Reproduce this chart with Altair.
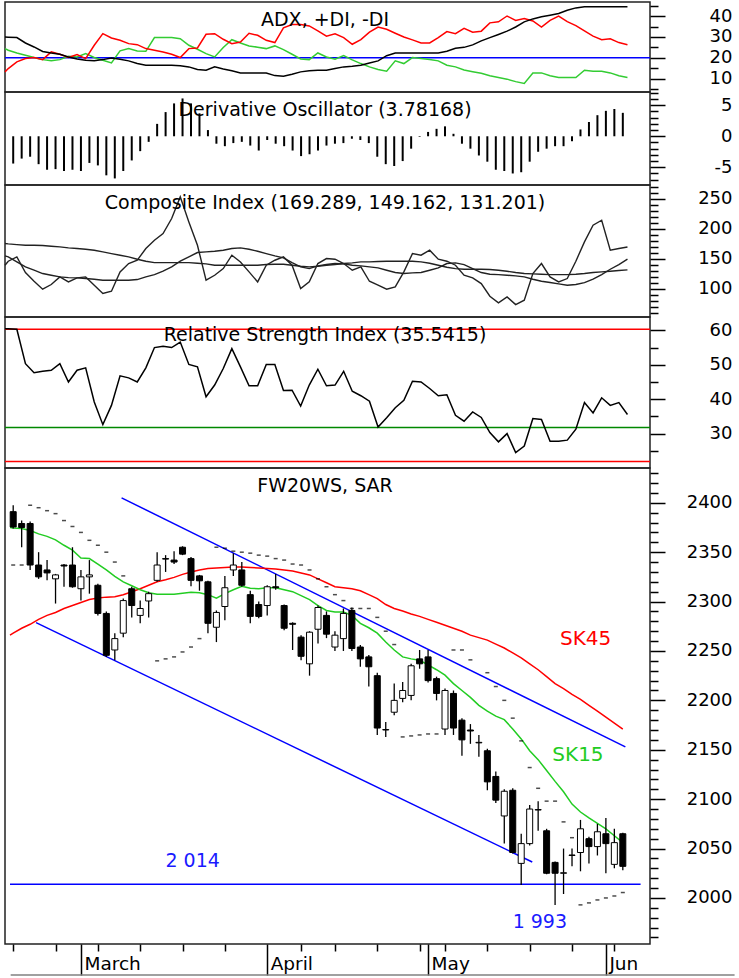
import altair as alt
import pandas as pd

FONT = "DejaVu Sans"
W = 645
H_ADX, H_DO, H_CI, H_RSI, H_PX = 90, 93, 132, 151, 476
XDOM = [-0.378, 74.62]

DAY = list(range(73))
EDGE_DAY = -0.378   # left border of the plot

# ---- ADX panel ----
ADX = [29.9, 29.7, 27.1, 25.2, 23.0, 22.3, 21.7, 20.4, 19.4, 18.8,
       18.6, 19.1, 19.9, 19.3, 18.5, 17.2, 16.4, 16.4, 16.4, 16.4,
       16.2, 15.6, 14.3, 14.0, 15.6, 14.6, 13.7, 12.7, 12.7, 12.7,
       12.7, 11.4, 11.1, 12.1, 13.2, 13.7, 14.0, 14.0, 14.8, 15.6,
       15.9, 16.4, 17.5, 18.5, 21.0, 22.3, 22.3, 22.3, 22.3, 22.3,
       22.3, 23.1, 24.6, 25.0, 26.2, 28.1, 29.7, 31.2, 32.8, 34.8,
       37.3, 38.7, 39.7, 40.5, 41.3, 42.9, 44.0, 44.5, 44.5, 44.5,
       44.5, 44.5, 44.5]
DI_RED = [14.8, 18.0, 19.6, 20.1, 19.1, 22.8, 21.7, 20.1, 21.5, 19.6,
          26.0, 31.6, 29.5, 28.4, 26.8, 26.3, 24.4, 23.6, 22.8, 21.7,
          20.1, 24.4, 24.7, 31.3, 31.6, 28.9, 26.8, 27.6, 31.8, 30.8,
          28.4, 27.3, 34.4, 36.0, 36.0, 35.3, 32.9, 30.4, 31.5, 29.7,
          26.5, 28.7, 32.3, 34.8, 33.7, 31.8, 30.0, 28.6, 27.1, 27.1,
          29.7, 32.6, 31.6, 34.2, 32.3, 32.8, 36.8, 37.3, 40.1, 38.0,
          38.9, 37.7, 34.8, 38.0, 40.1, 37.4, 35.5, 32.9, 30.4, 28.7,
          29.1, 27.3, 26.3]
DI_GREEN = [23.6, 22.3, 21.2, 20.1, 19.1, 18.5, 19.1, 20.7, 20.4, 22.0,
            20.1, 18.8, 17.5, 23.3, 24.4, 23.3, 23.1, 29.7, 29.7, 29.7,
            29.2, 26.0, 24.1, 22.0, 20.4, 24.9, 28.7, 27.1, 25.7, 25.1,
            24.4, 25.7, 23.9, 21.7, 19.4, 19.1, 22.3, 20.4, 19.3, 21.0,
            19.0, 17.2, 15.6, 14.3, 13.5, 18.5, 17.2, 20.1, 19.6, 19.1,
            18.5, 16.4, 15.6, 14.1, 13.3, 12.5, 11.3, 10.5, 9.7, 8.5,
            7.6, 12.7, 12.7, 11.3, 10.5, 10.5, 10.5, 14.0, 13.5, 13.5,
            12.7, 11.3, 10.5]
EDGE_ADX, EDGE_RED, EDGE_GREEN = 30.0, 13.2, 24.4
ADX_LEVEL = [20]

# ---- Derivative oscillator ----
DO = [-4.4, -3.6, -3.3, -4.5, -5.4, -5.3, -5.6, -5.4, -5.6, -4.3,
      -4.7, -6.3, -6.8, -5.6, -3.9, -2.4, -0.9, 2.0, 3.9, 5.3,
      6.1, 5.3, 3.7, 1.0, -1.2, -1.6, -1.1, -0.9, -1.5, -2.3,
      -0.6, -1.2, -1.6, -2.3, -3.2, -2.9, -2.3, -1.5, -1.2, -1.1,
      -0.4, -0.6, -1.1, -3.3, -4.5, -4.8, -4.0, -2.0, -0.1, 0.7,
      1.2, 1.6, 0.4, -1.2, -2.0, -3.1, -4.1, -5.4, -5.6, -6.0,
      -5.8, -4.1, -2.5, -2.0, -1.6, -1.6, -0.8, 1.1, 2.3, 3.4,
      4.1, 4.4, 3.78]

# ---- Composite index ----
CI = [145.6, 152.8, 126.7, 112.2, 98.9, 106.7, 119.4, 111.1, 117.8, 119.4,
      105.6, 91.7, 95.6, 127.8, 141.7, 147.2, 166.7, 180.6, 191.7, 216.7,
      252.8, 211.1, 172.2, 113.9, 122.2, 133.3, 155.6, 144.4, 127.8, 111.1,
      138.9, 147.2, 152.8, 138.9, 100.0, 111.1, 141.7, 150.0, 148.9, 141.7,
      130.6, 136.1, 112.2, 105.6, 98.9, 102.8, 127.8, 158.3, 155.6, 163.9,
      148.9, 145.6, 138.9, 122.2, 117.8, 108.3, 87.2, 76.1, 86.1, 73.3,
      80.6, 125.0, 141.7, 119.4, 111.1, 116.7, 145.6, 177.8, 205.6, 213.9,
      163.9, 166.7, 169.3]
CI_FAST = [152.8, 144.4, 136.1, 130.6, 125.0, 122.2, 119.4, 118.3, 117.8, 116.7,
           115.6, 113.9, 113.9, 113.9, 113.9, 115.0, 119.4, 123.3, 128.9, 136.1,
           145.6, 152.8, 160.0, 161.1, 162.2, 163.9, 166.7, 167.8, 165.6, 162.2,
           158.3, 154.4, 151.1, 143.3, 136.1, 133.3, 137.8, 140.0, 141.7, 141.1,
           138.9, 137.8, 136.1, 134.4, 130.6, 126.7, 125.0, 126.1, 126.7, 130.6,
           134.4, 141.7, 142.8, 140.0, 133.3, 126.7, 123.9, 123.3, 122.2, 121.1,
           119.4, 115.6, 112.2, 110.0, 107.8, 105.6, 106.7, 110.0, 115.6, 123.3,
           132.2, 140.0, 149.2]
CI_SLOW = [174.4, 173.3, 172.2, 172.2, 171.7, 170.6, 169.4, 167.8, 166.7, 165.6,
           163.9, 161.1, 158.3, 155.6, 152.8, 148.9, 145.6, 143.3, 143.3, 143.3,
           143.3, 143.3, 142.2, 141.1, 138.9, 138.9, 138.9, 138.9, 138.9, 138.9,
           140.0, 140.6, 140.6, 138.9, 137.2, 136.1, 137.2, 138.9, 140.0, 141.7,
           142.8, 144.4, 144.4, 145.0, 145.6, 145.6, 145.6, 145.6, 144.4, 142.2,
           138.9, 135.6, 133.3, 132.2, 132.2, 132.2, 131.7, 130.6, 128.9, 126.7,
           125.0, 124.4, 123.9, 123.3, 123.3, 123.3, 123.9, 125.0, 126.7, 127.8,
           128.9, 130.0, 131.2]
EDGE_CI, EDGE_FAST, EDGE_SLOW = 138.9, 154.4, 175.0

# ---- RSI ----
RSI = [60.5, 60.3, 50.3, 47.7, 48.1, 48.4, 50.3, 45.0, 48.4, 49.1,
       39.2, 32.6, 38.2, 46.8, 46.2, 45.0, 49.1, 55.0, 55.4, 55.0,
       56.6, 50.1, 49.4, 40.7, 44.1, 48.9, 54.7, 49.4, 43.9, 43.9,
       50.1, 50.1, 42.5, 42.6, 38.0, 44.1, 48.7, 43.9, 44.1, 48.1,
       42.3, 41.0, 39.4, 31.9, 34.6, 37.5, 39.7, 45.2, 45.0, 43.1,
       41.0, 41.3, 35.3, 33.6, 36.3, 34.7, 30.3, 27.6, 30.0, 24.5,
       26.4, 34.4, 34.1, 27.8, 27.8, 28.1, 31.3, 39.0, 36.0, 40.4,
       38.2, 39.0, 35.54]
EDGE_RSI = 60.5
RSI_RED = [60.3, 21.9]
RSI_GREEN = [31.8]

# ---- Price (FW20WS) ----
OPEN = [2391, 2379, 2379, 2337, 2332, 2323, 2337, 2337, 2313, 2325,
        2316.5, 2288, 2251, 2268, 2313, 2286, 2300.6, 2321.5, 2343.5, 2342,
        2355, 2343.5, 2326, 2320, 2274, 2295, 2332, 2332, 2307, 2297,
        2296, 2315, 2296, 2278, 2264, 2237, 2272, 2286, 2254, 2262.5,
        2291, 2254, 2244, 2225, 2170, 2188, 2202, 2205, 2242, 2244,
        2222, 2171, 2207, 2180, 2170, 2157, 2149, 2123, 2083, 2109,
        2035, 2055, 2089, 2068, 2036, 2025, 2043, 2046, 2060, 2052,
        2065, 2034, 2065]
HIGH = [2397.5, 2382, 2381, 2350, 2342, 2328, 2338, 2355, 2332, 2342,
        2318, 2290, 2268, 2303, 2315, 2301, 2310, 2350, 2347, 2351,
        2356, 2345, 2327, 2321, 2291, 2326, 2349, 2340, 2311, 2300,
        2316.5, 2328, 2297, 2279, 2266, 2270, 2296, 2290, 2270, 2293,
        2294, 2256, 2246, 2228, 2178, 2217, 2218.6, 2237, 2251, 2251,
        2224, 2212, 2210, 2182, 2176, 2165, 2151, 2128, 2110, 2111,
        2065, 2094, 2098, 2070, 2037, 2050, 2050, 2079, 2062, 2075,
        2081, 2070, 2066]
LOW = [2374, 2355, 2332, 2323, 2321.5, 2298, 2315, 2314, 2301, 2308,
       2286, 2244, 2240.6, 2264, 2284, 2278, 2284, 2320, 2330, 2338,
       2347, 2315.5, 2311, 2268, 2259, 2281, 2326, 2315, 2278, 2283,
       2286, 2312, 2271, 2251, 2240.6, 2225, 2257.5, 2263, 2250, 2250,
       2250, 2234, 2214, 2165, 2163, 2185, 2198, 2200, 2232, 2218,
       2200, 2165, 2165, 2144, 2156, 2143, 2109, 2096, 2055, 2045,
       2013, 2053, 2068, 2024, 1993, 2004, 2032, 2027, 2035, 2043,
       2025, 2030, 2028]
CLOSE = [2375.5, 2375, 2337, 2325, 2329, 2327, 2336, 2315, 2325, 2327,
         2288, 2245.6, 2262.5, 2301, 2296, 2293, 2308, 2337, 2343, 2340,
         2348, 2321.5, 2321, 2278, 2289, 2314, 2337, 2316.5, 2285, 2285,
         2315, 2314, 2273, 2277, 2244.6, 2269, 2294, 2267, 2266, 2288,
         2252.5, 2242, 2234, 2172, 2170.5, 2200, 2210, 2235, 2237, 2220,
         2207, 2210, 2172, 2160, 2169, 2157.5, 2117.5, 2099, 2108, 2046,
         2055, 2090, 2089.5, 2025, 2025, 2025.5, 2043.5, 2070, 2052, 2067,
         2055, 2056, 2032]
SK15 = [2374.5, 2374, 2372, 2368.5, 2366, 2362.5, 2357, 2352, 2344, 2343.5,
        2338, 2332, 2325.5, 2320, 2316, 2312, 2309, 2307.4, 2307.4, 2307.4,
        2308.5, 2309.5, 2309, 2307, 2303.5, 2308, 2312, 2315.5, 2313.5, 2313,
        2314, 2314, 2312, 2310, 2306, 2302, 2296, 2291, 2289.5, 2289.5,
        2286, 2278, 2273.5, 2268, 2259, 2251, 2244, 2242, 2240.6, 2236,
        2231, 2225.5, 2217, 2210, 2203, 2195, 2189, 2184, 2180.5, 2171,
        2161, 2149, 2140, 2129, 2118, 2107.5, 2095, 2087, 2081, 2075.5,
        2070, 2063, 2056]
SK45 = [2268, 2273, 2277, 2282, 2286, 2289, 2293, 2296, 2299, 2302,
        2303.5, 2304.5, 2305, 2307, 2310, 2313, 2316.5, 2320, 2322, 2324.5,
        2327.5, 2330, 2332, 2333.5, 2334, 2334.5, 2335, 2335, 2334.5, 2334,
        2333.5, 2333, 2332, 2331, 2329, 2327, 2323, 2319, 2315, 2314,
        2313, 2311, 2307, 2303, 2297, 2293, 2290.5, 2287.5, 2285, 2282,
        2279, 2276, 2273, 2270, 2266, 2263.5, 2261, 2257, 2253, 2248,
        2243, 2237, 2231, 2224, 2217, 2212, 2206, 2201, 2195, 2189,
        2183, 2177, 2171]
EDGE_SK15, EDGE_SK45 = 2375.0, 2266.0
SAR_DAY = [0, 1,
           2, 3, 4, 5, 6, 7, 8, 9, 10, 11, 12, 13,
           17, 18, 19, 20, 21, 22,
           24, 25, 26, 27, 28, 29, 30, 31, 32, 33, 34, 35, 36, 37, 38, 39, 40, 41, 42, 43, 44, 45,
           46, 47, 48, 49, 50,
           52, 53, 54, 56, 57, 58, 59,
           60, 61, 62, 63, 64, 65, 66,
           67, 68, 69, 70, 71, 72]
SAR_VAL = [2337, 2337,
           2397.5, 2395, 2392, 2389, 2382, 2376, 2370, 2362, 2357, 2350, 2340, 2326,
           2240, 2242, 2244, 2249, 2254, 2262.5,
           2355, 2354, 2351, 2350, 2349, 2347, 2346, 2343.5, 2342, 2338, 2337, 2332, 2323, 2315,
           2307, 2301, 2293, 2293, 2293, 2284, 2270, 2256.5,
           2163, 2164, 2165, 2166, 2166,
           2251, 2251, 2241, 2228, 2214, 2200, 2182,
           2159, 2132, 2111, 2098, 2098, 2077, 2061,
           1993, 1995, 1998, 2000, 2002, 2005.5]
TREND_LINE = ["upper", "upper", "lower", "lower"]
TREND_DAY = [12.8, 72.3, 2.7, 61.3]
TREND_VAL = [2405, 2153, 2278.7, 2036.4]
SUPPORT_DAY = [-0.378, 74.1]
SUPPORT_VAL = 2014
ANNOT_TEXT = ["SK45", "SK15", "2 014", "1 993"]
ANNOT_DAY = [67.6, 66.7, 21.2, 62.2]
ANNOT_VAL = [2255.8, 2138.4, 2031.0, 1969.4]
ANNOT_COLOR = ["#ff0000", "#22cc22", "#1a1aff", "#1a1aff"]
ANNOT_SIZE = [20, 20, 19, 19]

MONTH_POS = [8, 30, 49, 70]
MONTH_NAMES = ["March", "April", "May", "Jun"]
WEEK_POS = [0, 5, 10, 15, 20, 25, 34, 38, 43, 48, 51, 56, 61, 66, 71]

TITLES = ["ADX, +DI, -DI", "Derivative Oscillator (3.78168)",
          "Composite Index (169.289, 149.162, 131.201)",
          "Relative Strength Index (35.5415)", "FW20WS, SAR"]
TITLE_DAY = 36.83
TITLE_VAL = [35.29, 3.27, 232.6, 56.91, 2410.9]

D_ADX = [3.51, 46.84]
D_DO = [-7.86, 7.14]
D_CI = [52.6, 272.6]
D_RSI = [20.0, 63.88]
D_PX = [1953.4, 2435.2]
FRAME_DAY = [-0.3, 85.2]
FRAME_BOTTOM = 1922.0

# ---------------- helpers ----------------
XS = alt.Scale(domain=XDOM, nice=False, zero=False)


def xq(field, axis=None):
    return alt.X(f"{field}:Q", scale=XS, axis=axis)


def yq(field, dom, axis=None):
    return alt.Y(f"{field}:Q", scale=alt.Scale(domain=dom, nice=False, zero=False), axis=axis)


def major_axis(vals):
    return alt.Axis(orient="right", values=vals, tickSize=15, tickWidth=1.5, tickColor="black",
                    labelAlign="right", labelBaseline="middle", labelPadding=67,
                    labelFont=FONT, labelFontSize=18, labelColor="black",
                    labelExpr="'' + datum.value", labelFlush=False, labelOverlap=False,
                    domain=False, grid=False, title=None)


def minor_axis(vals):
    return alt.Axis(orient="right", values=vals, tickSize=8, tickWidth=1.5, tickColor="black",
                    labels=False, domain=False, grid=False, title=None)


def axis_layers(dom, major, minor):
    a = alt.Chart(pd.DataFrame({"v": major, "i": [0] * len(major)})).mark_point(opacity=0).encode(
        x=xq("i"), y=yq("v", dom, major_axis(major)))
    b = alt.Chart(pd.DataFrame({"v": minor, "i": [0] * len(minor)})).mark_point(opacity=0).encode(
        x=xq("i"), y=yq("v", dom, minor_axis(minor)))
    return [a, b]


def title_layer(k, dom):
    df = pd.DataFrame({"t": [TITLES[k]], "i": [TITLE_DAY], "v": [TITLE_VAL[k]]})
    return alt.Chart(df).mark_text(
        font=FONT, fontSize=19, color="black", align="center", baseline="alphabetic"
    ).encode(x=xq("i"), y=yq("v", dom), text="t:N")


def minors(lo, hi, step, majors):
    out = []
    v = lo
    while v <= hi + 1e-9:
        if all(abs(v - m) > 1e-9 for m in majors):
            out.append(round(v, 6))
        v += step
    return out


DAYX = [EDGE_DAY] + DAY

# ---------------- panel 1: ADX ----------------
adx_df = pd.DataFrame({"i": DAYX, "adx": [EDGE_ADX] + ADX, "red": [EDGE_RED] + DI_RED,
                       "green": [EDGE_GREEN] + DI_GREEN})
b1 = alt.Chart(adx_df)
p1 = alt.layer(
    alt.Chart(pd.DataFrame({"v": ADX_LEVEL})).mark_rule(color="#0000ff", strokeWidth=1.5).encode(y=yq("v", D_ADX)),
    b1.mark_line(color="#33cc33", strokeWidth=1.5).encode(x=xq("i"), y=yq("green", D_ADX)),
    b1.mark_line(color="#ff0000", strokeWidth=1.5).encode(x=xq("i"), y=yq("red", D_ADX)),
    b1.mark_line(color="black", strokeWidth=1.5).encode(x=xq("i"), y=yq("adx", D_ADX)),
    title_layer(0, D_ADX),
    *axis_layers(D_ADX, [10, 20, 30, 40], [5, 15, 25, 35, 45]),
).resolve_axis(y="independent").properties(width=W, height=H_ADX)

# ---------------- panel 2: DO ----------------
do_df = pd.DataFrame({"i": DAY, "do": DO, "zero": [0] * len(DAY)})
p2 = alt.layer(
    alt.Chart(do_df).mark_bar(size=2, color="black").encode(x=xq("i"), y=yq("do", D_DO), y2="zero:Q"),
    title_layer(1, D_DO),
    *axis_layers(D_DO, [-5, 0, 5], minors(-7, 7, 1, [-5, 0, 5])),
).resolve_axis(y="independent").properties(width=W, height=H_DO)

# ---------------- panel 3: CI ----------------
ci_df = pd.DataFrame({"i": DAYX, "ci": [EDGE_CI] + CI, "fast": [EDGE_FAST] + CI_FAST,
                      "slow": [EDGE_SLOW] + CI_SLOW})
b3 = alt.Chart(ci_df)
p3 = alt.layer(
    b3.mark_line(color="#222222", strokeWidth=1.4).encode(x=xq("i"), y=yq("slow", D_CI)),
    b3.mark_line(color="#222222", strokeWidth=1.4).encode(x=xq("i"), y=yq("fast", D_CI)),
    b3.mark_line(color="#222222", strokeWidth=1.4).encode(x=xq("i"), y=yq("ci", D_CI)),
    title_layer(2, D_CI),
    *axis_layers(D_CI, [100, 150, 200, 250], minors(60, 270, 10, [100, 150, 200, 250])),
).resolve_axis(y="independent").properties(width=W, height=H_CI)

# ---------------- panel 4: RSI ----------------
rsi_df = pd.DataFrame({"i": DAYX, "rsi": [EDGE_RSI] + RSI})
p4 = alt.layer(
    alt.Chart(pd.DataFrame({"v": RSI_RED})).mark_rule(color="#ff0000", strokeWidth=1.5).encode(y=yq("v", D_RSI)),
    alt.Chart(pd.DataFrame({"v": RSI_GREEN})).mark_rule(color="#008800", strokeWidth=1.5).encode(y=yq("v", D_RSI)),
    alt.Chart(rsi_df).mark_line(color="black", strokeWidth=1.5).encode(x=xq("i"), y=yq("rsi", D_RSI)),
    title_layer(3, D_RSI),
    *axis_layers(D_RSI, [30, 40, 50, 60], [25, 35, 45, 55]),
).resolve_axis(y="independent").properties(width=W, height=H_RSI)

# ---------------- panel 5: price ----------------
px_df = pd.DataFrame({"i": DAY, "open": OPEN, "high": HIGH, "low": LOW, "close": CLOSE})
ma_df = pd.DataFrame({"i": DAYX, "sk15": [EDGE_SK15] + SK15, "sk45": [EDGE_SK45] + SK45})
sar_df = pd.DataFrame({"i": SAR_DAY, "sar": SAR_VAL})
trend_df = pd.DataFrame({"line": TREND_LINE, "i": TREND_DAY, "p": TREND_VAL})
sup_df = pd.DataFrame({"i0": [SUPPORT_DAY[0]], "i1": [SUPPORT_DAY[1]], "p": [SUPPORT_VAL]})
ann_df = pd.DataFrame({"i": ANNOT_DAY, "p": ANNOT_VAL, "t": ANNOT_TEXT, "c": ANNOT_COLOR, "s": ANNOT_SIZE})
frame_df = pd.DataFrame({"i0": [FRAME_DAY[0]], "i1": [FRAME_DAY[1]], "p": [FRAME_BOTTOM]})
bp = alt.Chart(px_df)
bm = alt.Chart(ma_df)

month_expr = " : ".join(f"datum.value == {p} ? '{n}'" for p, n in zip(MONTH_POS, MONTH_NAMES)) + " : ''"
month_axis = alt.Axis(orient="bottom", values=MONTH_POS, tickSize=31, tickWidth=1.5, tickColor="black",
                      labelExpr=month_expr, labelAlign="left", labelBaseline="alphabetic",
                      labelPadding=-6, labelOffset=3, labelFont=FONT, labelFontSize=18.5,
                      labelColor="black", labelFlush=False, labelOverlap=False,
                      domain=False, grid=False, title=None)
week_axis = alt.Axis(orient="bottom", values=WEEK_POS, tickSize=7, tickWidth=1.5, tickColor="black",
                     labels=False, domain=False, grid=False, title=None)

p5 = alt.layer(
    alt.Chart(sup_df).mark_rule(color="#0000ff", strokeWidth=1.5).encode(
        x=xq("i0"), x2="i1:Q", y=yq("p", D_PX)),
    alt.Chart(trend_df).mark_line(color="#0000ff", strokeWidth=1.5).encode(
        x=xq("i"), y=yq("p", D_PX), detail="line:N"),
    bm.mark_line(color="#ff0000", strokeWidth=1.5).encode(x=xq("i"), y=yq("sk45", D_PX)),
    bm.mark_line(color="#22cc22", strokeWidth=1.5).encode(x=xq("i"), y=yq("sk15", D_PX)),
    bp.mark_rule(color="black", strokeWidth=1.3).encode(x=xq("i"), y=yq("low", D_PX), y2="high:Q"),
    bp.mark_bar(size=6, stroke="black", strokeWidth=1).encode(
        x=xq("i"), y=yq("open", D_PX), y2="close:Q",
        fill=alt.condition("datum.close >= datum.open", alt.value("white"), alt.value("black"))),
    alt.Chart(sar_df).mark_tick(orient="horizontal", size=4, thickness=1.5, color="black").encode(
        x=xq("i"), y=yq("sar", D_PX)),
    alt.Chart(ann_df).mark_text(font=FONT, align="center", baseline="alphabetic").encode(
        x=xq("i"), y=yq("p", D_PX), text="t:N", color=alt.Color("c:N", scale=None),
        size=alt.Size("s:Q", scale=None)),
    title_layer(4, D_PX),
    *axis_layers(D_PX, [2000, 2050, 2100, 2150, 2200, 2250, 2300, 2350, 2400],
                 minors(1960, 2430, 10, [2000, 2050, 2100, 2150, 2200, 2250, 2300, 2350, 2400])),
    alt.Chart(pd.DataFrame({"i": MONTH_POS, "p": [2000] * len(MONTH_POS)})).mark_point(opacity=0).encode(
        x=xq("i", month_axis), y=yq("p", D_PX)),
    alt.Chart(pd.DataFrame({"i": WEEK_POS, "p": [2000] * len(WEEK_POS)})).mark_point(opacity=0).encode(
        x=xq("i", week_axis), y=yq("p", D_PX)),
    alt.Chart(frame_df).mark_rule(color="#808080", strokeWidth=1.5).encode(
        x=xq("i0"), x2="i1:Q", y=yq("p", D_PX)),
).resolve_axis(y="independent", x="independent").properties(width=W, height=H_PX)

chart = alt.vconcat(p1, p2, p3, p4, p5, spacing=0).properties(
    bounds="flush", padding={"left": 1, "top": 1, "right": 0, "bottom": 0}, background="white"
).configure_view(stroke="#222222", strokeWidth=1.5)

chart.save("out.html", embed_options={"renderer": "svg", "actions": False})
